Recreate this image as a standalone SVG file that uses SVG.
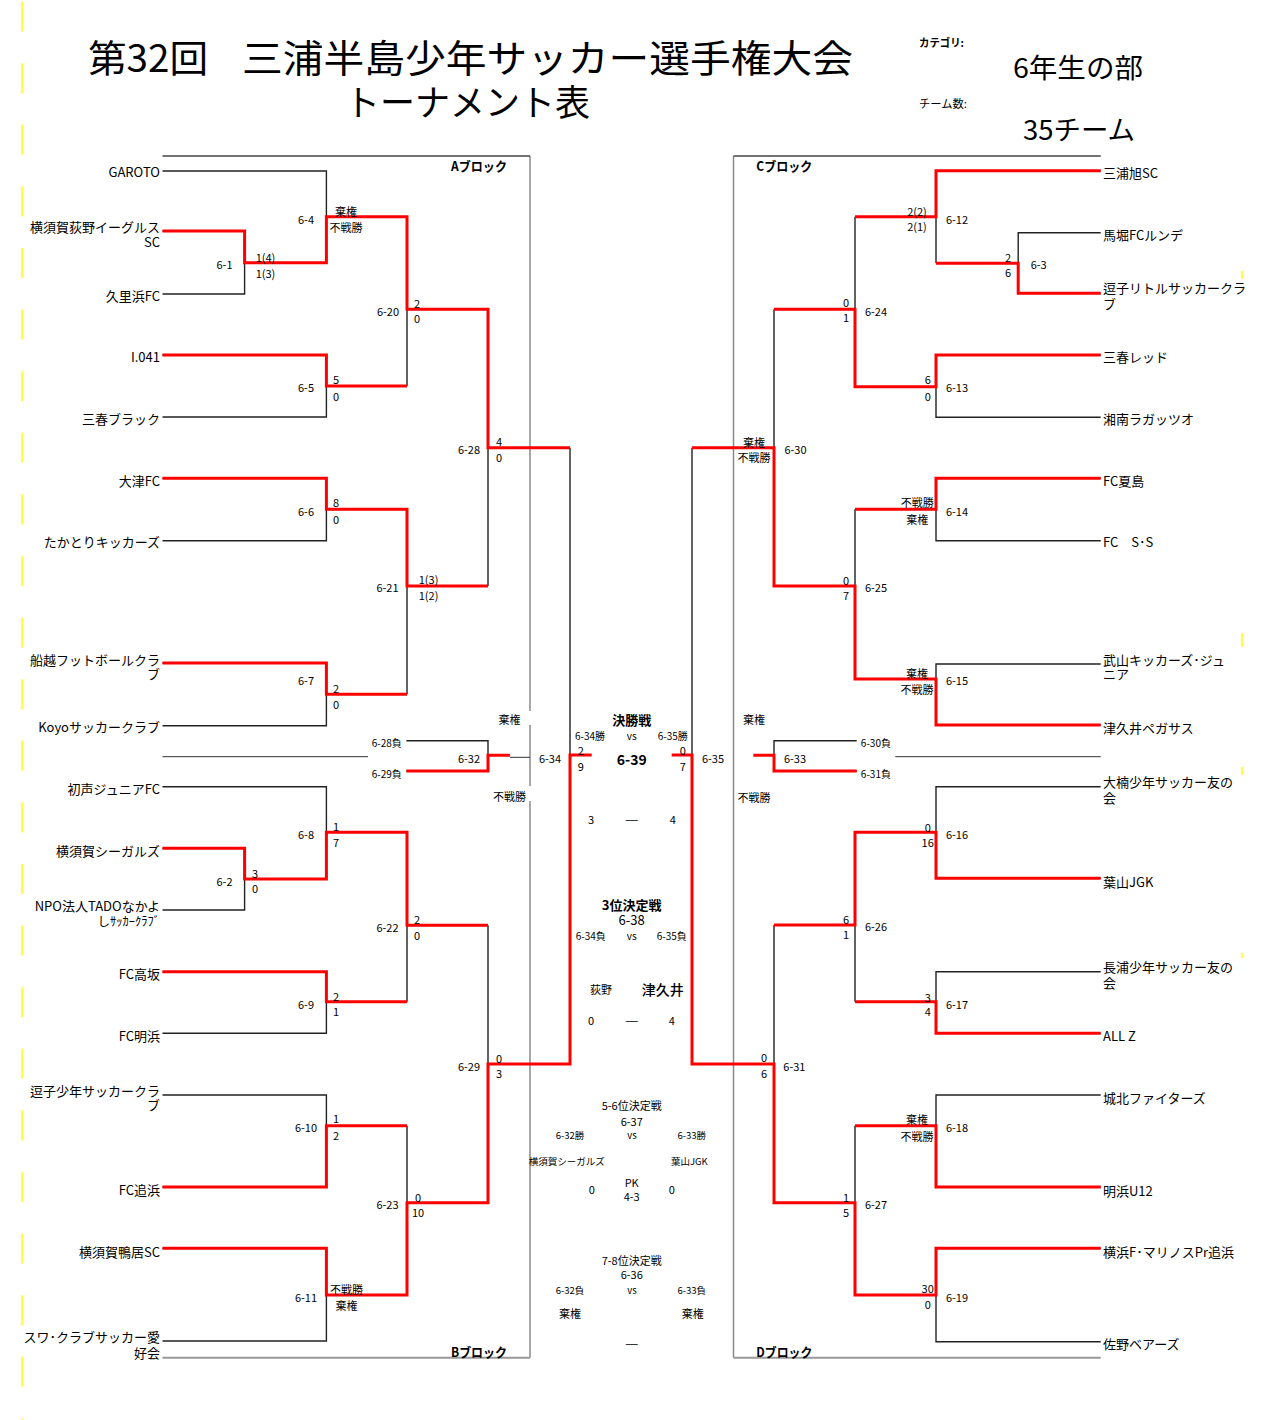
<svg xmlns="http://www.w3.org/2000/svg" width="1265" height="1420" viewBox="0 0 1265 1420">
<style>
text{font-family:"Noto Sans CJK JP","Noto Sans",sans-serif;dominant-baseline:central;fill:#000}
.tl{font-size:13px;text-anchor:end}
.tr{font-size:13px;text-anchor:start}
.m{font-size:11px;text-anchor:middle}
.s{font-size:11px;text-anchor:middle}
.sm{font-size:10px;text-anchor:middle}
.xs{font-size:9.5px;text-anchor:middle}
.b{font-weight:bold}
.dash{font-size:14px;font-weight:bold;text-anchor:middle}
.blk{fill:none;stroke:#222;stroke-width:1.4}
.red{fill:none;stroke:#ff0000;stroke-width:3}
.bord{fill:none;stroke:#8a8a8a;stroke-width:1.5}
.thin{fill:none;stroke:#333;stroke-width:1}
.yel{fill:none;stroke:#ffff00;stroke-width:1.5}
</style>
<rect width="1265" height="1420" fill="#fff"/>

<g id="page-marks">
<path class="yel" d="M22 0V1420" stroke-dasharray="30 31.6" stroke-dashoffset="-1.6"/>
<path class="yel" d="M1242 271V279M1242 633V647M1242 767V775M1242 953V958"/>
</g>

<g id="title">
<text x="88" y="55" font-size="38" textLength="120" lengthAdjust="spacingAndGlyphs">第32回</text>
<text x="242" y="55" font-size="38" textLength="611" lengthAdjust="spacingAndGlyphs">三浦半島少年サッカー選手権大会</text>
<text x="345" y="100" font-size="36" textLength="245" lengthAdjust="spacingAndGlyphs">トーナメント表</text>
</g>
<g id="category">
<text x="919" y="42" font-size="11" class="b" textLength="45" lengthAdjust="spacingAndGlyphs">カテゴリ:</text>
<text x="1013" y="66" font-size="27" textLength="130" lengthAdjust="spacingAndGlyphs">6年生の部</text>
<text x="919" y="103" font-size="11" textLength="48" lengthAdjust="spacingAndGlyphs">チーム数:</text>
<text x="1023" y="128" font-size="27" textLength="112" lengthAdjust="spacingAndGlyphs">35チーム</text>
</g>

<g id="connectors">
<path class="bord" d="M530 156V711M530 725V786M530 801V1357.7M733.5 156V1357.7"/>
<path fill="none" stroke="#444" stroke-width="1.3" d="M162.5 156H530M733.5 156H1100.7"/>
<path fill="none" stroke="#999" stroke-width="2" d="M162.5 1357.7H530M733.5 1357.7H1100.7"/>
<path class="thin" d="M162.5 756.7H368M895.3 756.7H1100.7M510 757.3H530"/>

<path class="blk" d="M162.5 171H326.4V262.7M162.5 231H244.6V294H162.5M162.5 355H326.4V417H162.5M162.5 478.3H326.4V540.7H162.5M162.5 663H326.4V725.7H162.5M162.5 786.7H326.4V879M162.5 848.3H244.6V910H162.5M162.5 971.7H326.4V1033.3H162.5M162.5 1095H326.4V1187H162.5M162.5 1248.3H326.4V1341H162.5M407 216.7V386M407 509.3V694.3M407 832.3V1001.7M407 1125.7V1295M488 309.3V586M488 925.3V1202.7M570 447.7V1064M406.4 740.7H488V771H406.4"/>
<path class="blk" d="M1100.7 170.7H936V263.3M1100.7 232.7H1018.2V293.3H1100.7M1100.7 355H936V417.3H1100.7M1100.7 478.3H936V540.7H1100.7M1100.7 664H936V725H1100.7M1100.7 786.7H936V878.3H1100.7M1100.7 971.7H936V1033.3H1100.7M1100.7 1095H936V1187H1100.7M1100.7 1248.3H936V1341.7H1100.7M855 216.7V386.7M855 509.3V679M855 832.3V1001.7M855 1125.7V1295M774 309.3V586M774 925V1202.7M692 447.7V1064M856.7 740.7H774V771H856.7"/>

<path class="red" d="M162.5 231H244.6V262.7H326.4V216.7H407V309.3H488V447.7H570M162.5 355H326.4V386H407M162.5 478.3H326.4V509.3H407V586H488M162.5 663H326.4V694.3H407M162.5 848.3H244.6V879H326.4V832.3H407V925.3H488M162.5 971.7H326.4V1001.7H407M162.5 1187H326.4V1125.7H407M162.5 1248.3H326.4V1295H407V1202.7H488V1064H570V755H591.7M406.4 771H488V755.3H510"/>
<path class="red" d="M1100.7 170.7H936V216.7H855M1100.7 293.3H1018.2V263.3H936M1100.7 355H936V386.7H855V309.3H774M1100.7 478.3H936V509.3H855M1100.7 725H936V679H855V586H774V447.7H692M1100.7 878.3H936V832.3H855V925H774M1100.7 1033.3H936V1001.7H855M1100.7 1187H936V1125.7H855M1100.7 1248.3H936V1295H855V1202.7H774V1064H692V755H671.7M856.7 771H774V755.3H753.3"/>
</g>

<g id="blocks">
<text x="479" y="165" font-size="13" class="b" text-anchor="middle" textLength="56" lengthAdjust="spacingAndGlyphs">Aブロック</text>
<text x="479" y="1351.7" font-size="13" class="b" text-anchor="middle" textLength="56" lengthAdjust="spacingAndGlyphs">Bブロック</text>
<text x="784.3" y="165" font-size="13" class="b" text-anchor="middle" textLength="56" lengthAdjust="spacingAndGlyphs">Cブロック</text>
<text x="784.3" y="1351.7" font-size="13" class="b" text-anchor="middle" textLength="56" lengthAdjust="spacingAndGlyphs">Dブロック</text>
</g>

<g id="team-garoto"><text class="tl" x="160" y="171">GAROTO</text></g>
<g id="team-oginoeagles"><text class="tl" x="160" y="226.5">横須賀荻野イーグルス<tspan x="160" dy="14.5">SC</tspan></text></g>
<g id="team-kurihama"><text class="tl" x="160" y="295">久里浜FC</text></g>
<g id="team-i041"><text class="tl" x="160" y="356.5">I.041</text></g>
<g id="team-miharublack"><text class="tl" x="160" y="418">三春ブラック</text></g>
<g id="team-otsu"><text class="tl" x="160" y="480">大津FC</text></g>
<g id="team-takatori"><text class="tl" x="160" y="541">たかとりキッカーズ</text></g>
<g id="team-funakoshi"><text class="tl" x="160" y="659">船越フットボールクラ<tspan x="160" dy="14">ブ</tspan></text></g>
<g id="team-koyo"><text class="tl" x="160" y="726.5">Koyoサッカークラブ</text></g>
<g id="team-hatsukoe"><text class="tl" x="160" y="788">初声ジュニアFC</text></g>
<g id="team-seagulls"><text class="tl" x="160" y="850.5">横須賀シーガルズ</text></g>
<g id="team-tado"><text class="tl" x="160" y="905.5">NPO法人TADOなかよ<tspan x="160" dy="14.5" font-size="12.5">しｻｯｶｰｸﾗﾌﾞ</tspan></text></g>
<g id="team-takasaka"><text class="tl" x="160" y="973">FC高坂</text></g>
<g id="team-akehama"><text class="tl" x="160" y="1035">FC明浜</text></g>
<g id="team-zushishonen"><text class="tl" x="160" y="1090">逗子少年サッカークラ<tspan x="160" dy="14.3">ブ</tspan></text></g>
<g id="team-oppama"><text class="tl" x="160" y="1189">FC追浜</text></g>
<g id="team-kamoi"><text class="tl" x="160" y="1251.5">横須賀鴨居SC</text></g>
<g id="team-suwa"><text class="tl" x="160" y="1336.7">スワ･クラブサッカー愛<tspan x="160" dy="15">好会</tspan></text></g>

<g id="team-miuraasahi"><text class="tr" x="1103" y="172">三浦旭SC</text></g>
<g id="team-maborirunde"><text class="tr" x="1103" y="234">馬堀FCルンデ</text></g>
<g id="team-zushilittle"><text class="tr" x="1103" y="287.7">逗子リトルサッカークラ<tspan x="1103" dy="15.6">ブ</tspan></text></g>
<g id="team-miharured"><text class="tr" x="1103" y="356.5">三春レッド</text></g>
<g id="team-shonanragazzo"><text class="tr" x="1103" y="418">湘南ラガッツオ</text></g>
<g id="team-natsushima"><text class="tr" x="1103" y="480.5">FC夏島</text></g>
<g id="team-fcss"><text class="tr" x="1103" y="541.5">FC　S･S</text></g>
<g id="team-takeyama"><text class="tr" x="1103" y="659.3">武山キッカーズ･ジュ<tspan x="1103" dy="14">ニア</tspan></text></g>
<g id="team-tsukuipegasus"><text class="tr" x="1103" y="727">津久井ペガサス</text></g>
<g id="team-ogusu"><text class="tr" x="1103" y="781.7">大楠少年サッカー友の<tspan x="1103" dy="15.6">会</tspan></text></g>
<g id="team-hayamajgk"><text class="tr" x="1103" y="881.5">葉山JGK</text></g>
<g id="team-nagaura"><text class="tr" x="1103" y="966.7">長浦少年サッカー友の<tspan x="1103" dy="15.3">会</tspan></text></g>
<g id="team-allz"><text class="tr" x="1103" y="1035">ALL Z</text></g>
<g id="team-johoku"><text class="tr" x="1103" y="1097">城北ファイターズ</text></g>
<g id="team-akehamau12"><text class="tr" x="1103" y="1190">明浜U12</text></g>
<g id="team-marinos"><text class="tr" x="1103" y="1251.5">横浜F･マリノスPr追浜</text></g>
<g id="team-sanobears"><text class="tr" x="1103" y="1343">佐野ベアーズ</text></g>

<g id="m6-1"><text class="m" x="224.5" y="264">6-1</text><text class="s" x="265.5" y="257">1(4)<tspan x="265.5" dy="15.7">1(3)</tspan></text></g>
<g id="m6-4"><text class="m" x="306" y="218.7">6-4</text><text class="s" x="346" y="211">棄権<tspan x="346" dy="15.7">不戦勝</tspan></text></g>
<g id="m6-5"><text class="m" x="306" y="387">6-5</text><text class="s" x="336" y="379">5<tspan x="336" dy="17">0</tspan></text></g>
<g id="m6-20"><text class="m" x="388" y="311">6-20</text><text class="s" x="417" y="302.7">2<tspan x="417" dy="15.3">0</tspan></text></g>
<g id="m6-6"><text class="m" x="306" y="510.7">6-6</text><text class="s" x="336" y="502.3">8<tspan x="336" dy="16.7">0</tspan></text></g>
<g id="m6-21"><text class="m" x="387.5" y="587">6-21</text><text class="s" x="428.6" y="579.3">1(3)<tspan x="428.6" dy="16">1(2)</tspan></text></g>
<g id="m6-7"><text class="m" x="306" y="680">6-7</text><text class="s" x="336" y="688">2<tspan x="336" dy="15.7">0</tspan></text></g>
<g id="m6-28"><text class="m" x="469" y="449">6-28</text><text class="s" x="499" y="440.7">4<tspan x="499" dy="16.3">0</tspan></text></g>
<g id="m6-32"><text class="m" x="469" y="757.7">6-32</text><text class="sm" x="386.8" y="742.7">6-28負</text><text class="sm" x="386.8" y="773.3">6-29負</text></g>
<g id="m6-34"><text class="m" x="550" y="758">6-34</text><text class="s" x="509.6" y="718.7">棄権</text><text class="s" x="509.6" y="796">不戦勝</text></g>
<g id="m6-2"><text class="m" x="224.5" y="880.7">6-2</text><text class="s" x="255" y="872.7">3<tspan x="255" dy="15.6">0</tspan></text></g>
<g id="m6-8"><text class="m" x="306" y="834.3">6-8</text><text class="s" x="336" y="826">1<tspan x="336" dy="15.7">7</tspan></text></g>
<g id="m6-22"><text class="m" x="387.5" y="926.7">6-22</text><text class="s" x="417" y="919.3">2<tspan x="417" dy="15.7">0</tspan></text></g>
<g id="m6-9"><text class="m" x="306" y="1004">6-9</text><text class="s" x="336" y="996">2<tspan x="336" dy="14.7">1</tspan></text></g>
<g id="m6-29"><text class="m" x="469" y="1065.7">6-29</text><text class="s" x="499" y="1057.7">0<tspan x="499" dy="15.6">3</tspan></text></g>
<g id="m6-10"><text class="m" x="306" y="1127.3">6-10</text><text class="s" x="336" y="1118.3">1<tspan x="336" dy="16.7">2</tspan></text></g>
<g id="m6-23"><text class="m" x="387.5" y="1204">6-23</text><text class="s" x="418" y="1197.3">0<tspan x="418" dy="15">10</tspan></text></g>
<g id="m6-11"><text class="m" x="306" y="1296.7">6-11</text><text class="s" x="346.4" y="1289">不戦勝<tspan x="346.4" dy="16">棄権</tspan></text></g>

<g id="m6-12"><text class="m" x="957" y="218.7">6-12</text><text class="s" x="917" y="211">2(2)<tspan x="917" dy="15">2(1)</tspan></text></g>
<g id="m6-3"><text class="m" x="1038.7" y="264.3">6-3</text><text class="s" x="1008" y="256.7">2<tspan x="1008" dy="15.6">6</tspan></text></g>
<g id="m6-24"><text class="m" x="876" y="310.7">6-24</text><text class="s" x="846" y="301.7">0<tspan x="846" dy="15">1</tspan></text></g>
<g id="m6-13"><text class="m" x="957" y="387.3">6-13</text><text class="s" x="927.7" y="379.3">6<tspan x="927.7" dy="16.7">0</tspan></text></g>
<g id="m6-30"><text class="m" x="795.5" y="449">6-30</text><text class="s" x="754" y="441.7">棄権<tspan x="754" dy="15">不戦勝</tspan></text></g>
<g id="m6-14"><text class="m" x="957" y="510.7">6-14</text><text class="s" x="917.3" y="502.3">不戦勝<tspan x="917.3" dy="16.7">棄権</tspan></text></g>
<g id="m6-25"><text class="m" x="876" y="587.3">6-25</text><text class="s" x="846" y="580">0<tspan x="846" dy="15">7</tspan></text></g>
<g id="m6-15"><text class="m" x="957" y="680">6-15</text><text class="s" x="917" y="673.3">棄権<tspan x="917" dy="15.4">不戦勝</tspan></text></g>
<g id="m6-33"><text class="m" x="795" y="757.7">6-33</text><text class="sm" x="875.9" y="742.7">6-30負</text><text class="sm" x="875.9" y="773.3">6-31負</text></g>
<g id="m6-35"><text class="m" x="713" y="758">6-35</text><text class="s" x="754" y="718.7">棄権</text><text class="s" x="754" y="796.7">不戦勝</text></g>
<g id="m6-16"><text class="m" x="957" y="834.3">6-16</text><text class="s" x="927.7" y="826.7">0<tspan x="927.7" dy="15">16</tspan></text></g>
<g id="m6-26"><text class="m" x="876" y="926">6-26</text><text class="s" x="846" y="919.3">6<tspan x="846" dy="15">1</tspan></text></g>
<g id="m6-17"><text class="m" x="957" y="1004">6-17</text><text class="s" x="927.7" y="996.7">3<tspan x="927.7" dy="14">4</tspan></text></g>
<g id="m6-31"><text class="m" x="794.4" y="1065.7">6-31</text><text class="s" x="764" y="1057.3">0<tspan x="764" dy="16">6</tspan></text></g>
<g id="m6-18"><text class="m" x="957" y="1127.3">6-18</text><text class="s" x="917" y="1119">棄権<tspan x="917" dy="16.7">不戦勝</tspan></text></g>
<g id="m6-27"><text class="m" x="876" y="1204">6-27</text><text class="s" x="846" y="1196.7">1<tspan x="846" dy="15">5</tspan></text></g>
<g id="m6-19"><text class="m" x="957" y="1296.7">6-19</text><text class="s" x="927.7" y="1288.3">30<tspan x="927.7" dy="16">0</tspan></text></g>

<g id="m6-39">
<text class="b" x="631.7" y="719" font-size="13" text-anchor="middle">決勝戦</text>
<text class="sm" x="590" y="735">6-34勝</text><text class="sm" x="631.7" y="735">vs</text><text class="sm" x="672.7" y="735">6-35勝</text>
<text class="s" x="580.7" y="750">2<tspan x="580.7" dy="15.7">9</tspan></text>
<text class="b" x="631.7" y="759.3" font-size="14" text-anchor="middle">6-39</text>
<text class="s" x="682.7" y="750">0<tspan x="682.7" dy="15.7">7</tspan></text>
<text class="s" x="591" y="819">3</text><text class="dash" x="631.7" y="819">―</text><text class="s" x="672.7" y="819">4</text>
</g>
<g id="m6-38">
<text class="b" x="631.7" y="904" font-size="13" text-anchor="middle">3位決定戦<tspan x="631.7" dy="14.5" font-weight="normal">6-38</tspan></text>
<text class="sm" x="590.7" y="935">6-34負</text><text class="sm" x="631.7" y="935">vs</text><text class="sm" x="671.7" y="935">6-35負</text>
<text class="s" x="601" y="989.3">荻野</text><text x="662.7" y="989.3" font-size="14" font-weight="500" text-anchor="middle">津久井</text>
<text class="s" x="591" y="1020">0</text><text class="dash" x="631.7" y="1020">―</text><text class="s" x="671.7" y="1020">4</text>
</g>
<g id="m6-37">
<text class="s" x="631.7" y="1105">5-6位決定戦<tspan x="631.7" dy="15.7">6-37</tspan></text>
<text class="xs" x="570" y="1135">6-32勝</text><text class="xs" x="632" y="1135">vs</text><text class="xs" x="691.7" y="1135">6-33勝</text>
<text class="xs" x="566.7" y="1160.7">横須賀シーガルズ</text><text class="xs" x="689.3" y="1160.7">葉山JGK</text>
<text class="s" x="591.7" y="1189.3">0</text><text class="s" x="631.7" y="1181.7">PK<tspan x="631.7" dy="14.3">4-3</tspan></text><text class="s" x="671.7" y="1189.3">0</text>
</g>
<g id="m6-36">
<text class="s" x="631.7" y="1260">7-8位決定戦<tspan x="631.7" dy="14">6-36</tspan></text>
<text class="xs" x="570" y="1290">6-32負</text><text class="xs" x="632" y="1290">vs</text><text class="xs" x="691.7" y="1290">6-33負</text>
<text class="s" x="570" y="1313.3">棄権</text><text class="s" x="692.7" y="1313.3">棄権</text>
<text class="dash" x="631.7" y="1343.3" font-size="12">―</text>
</g>
</svg>
